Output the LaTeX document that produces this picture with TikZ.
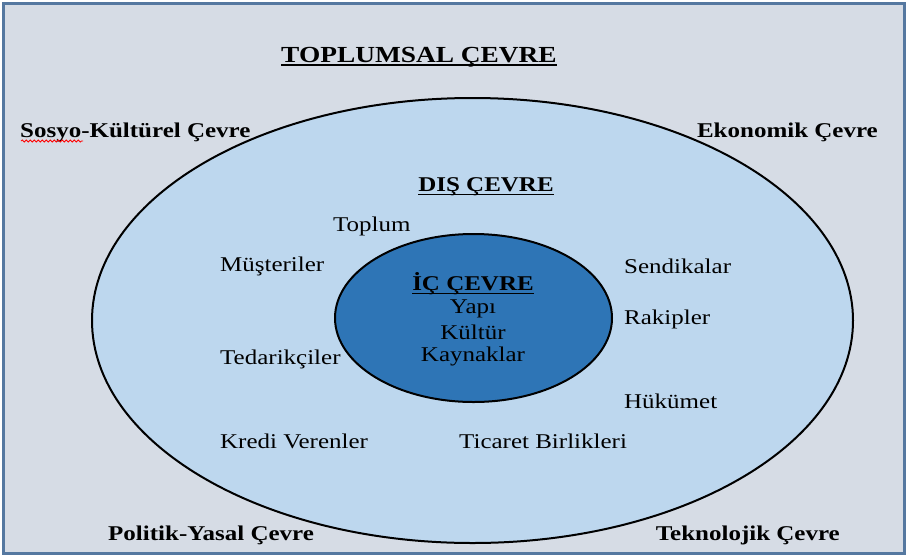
\documentclass[tikz,border=0pt]{standalone}
\usepackage{fontspec}
\usepackage{graphicx}
\setmainfont{Liberation Serif}
\usetikzlibrary{decorations.pathmorphing,shapes.geometric}
\definecolor{pagebg}{HTML}{D6DCE5}
\definecolor{frameblue}{HTML}{5578A0}
\definecolor{outerfill}{HTML}{BDD7EE}
\definecolor{innerfill}{HTML}{2E75B6}
% text is set a little wide
\newcommand{\wide}[1]{\scalebox{1.19}[1]{#1}}
% heading underline with a heavier rule
\newcommand{\ulbox}[1]{\setbox0\hbox{#1}\rlap{\rule[-3.5pt]{\wd0}{1.6pt}}\box0}
\tikzset{
  lbl/.style={inner sep=0pt, font=\fontsize{21}{25}\selectfont},
  blbl/.style={inner sep=0pt, font=\fontsize{21}{25}\selectfont\bfseries},
  ttl/.style={inner sep=0pt, font=\fontsize{23}{27}\selectfont\bfseries},
}
\begin{document}
\begin{tikzpicture}[x=1pt,y=-1pt]
\useasboundingbox (0,0) rectangle (908,558);
% background frame
\draw[line width=3pt, draw=frameblue, fill=pagebg] (3.5,3.5) rectangle (904.5,553.5);
% outer (external) ellipse
\node (dis) [draw=black, line width=2pt, fill=outerfill, ellipse, minimum width=761pt, minimum height=445pt, inner sep=0pt] at (472.5,320.5) {};
% inner (internal) ellipse
\node (ic) [draw=black, line width=2pt, fill=innerfill, ellipse, minimum width=277pt, minimum height=168pt, inner sep=0pt] at (473.5,318) {};

% societal environment
\node (toplumsal) [ttl] at (419,57) {\wide{\ulbox{TOPLUMSAL ÇEVRE}}};
\node (sosyo) [blbl, anchor=west] at (20,132) {\wide{Sosyo-Kültürel Çevre}};
\node (ekonomik) [blbl, anchor=east] at (878,132) {\wide{Ekonomik Çevre}};
\node (politik) [blbl, anchor=west] at (108,535) {\wide{Politik-Yasal Çevre}};
\node (teknolojik) [blbl, anchor=east] at (840,535) {\wide{Teknolojik Çevre}};
% spell-check mark under "Sosyo"
\draw[red, line width=0.8pt, decorate, decoration={snake, amplitude=1pt, segment length=4pt}] (21,141) -- (83,141);

% external environment
\node (disttl) [blbl] at (486,187) {\wide{\ulbox{DIŞ ÇEVRE}}};
\node (toplum) [lbl, anchor=west] at (333,226) {\wide{Toplum}};
\node (musteri) [lbl, anchor=west] at (220,266) {\wide{Müşteriler}};
\node (tedarik) [lbl, anchor=west] at (220,359) {\wide{Tedarikçiler}};
\node (kredi) [lbl, anchor=west] at (220,441) {\wide{Kredi Verenler}};
\node (sendika) [lbl, anchor=west] at (624,266) {\wide{Sendikalar}};
\node (rakip) [lbl, anchor=west] at (624,319) {\wide{Rakipler}};
\node (hukumet) [lbl, anchor=west] at (624,401) {\wide{Hükümet}};
\node (ticaret) [lbl, anchor=west] at (459,441) {\wide{Ticaret Birlikleri}};

% internal environment
\node (icttl) [blbl] at (473,284) {\wide{\ulbox{İÇ ÇEVRE}}};
\node (yapi) [lbl] at (473,309) {\wide{Yapı}};
\node (kultur) [lbl] at (473,332) {\wide{Kültür}};
\node (kaynak) [lbl] at (473,356) {\wide{Kaynaklar}};
\end{tikzpicture}
\end{document}
